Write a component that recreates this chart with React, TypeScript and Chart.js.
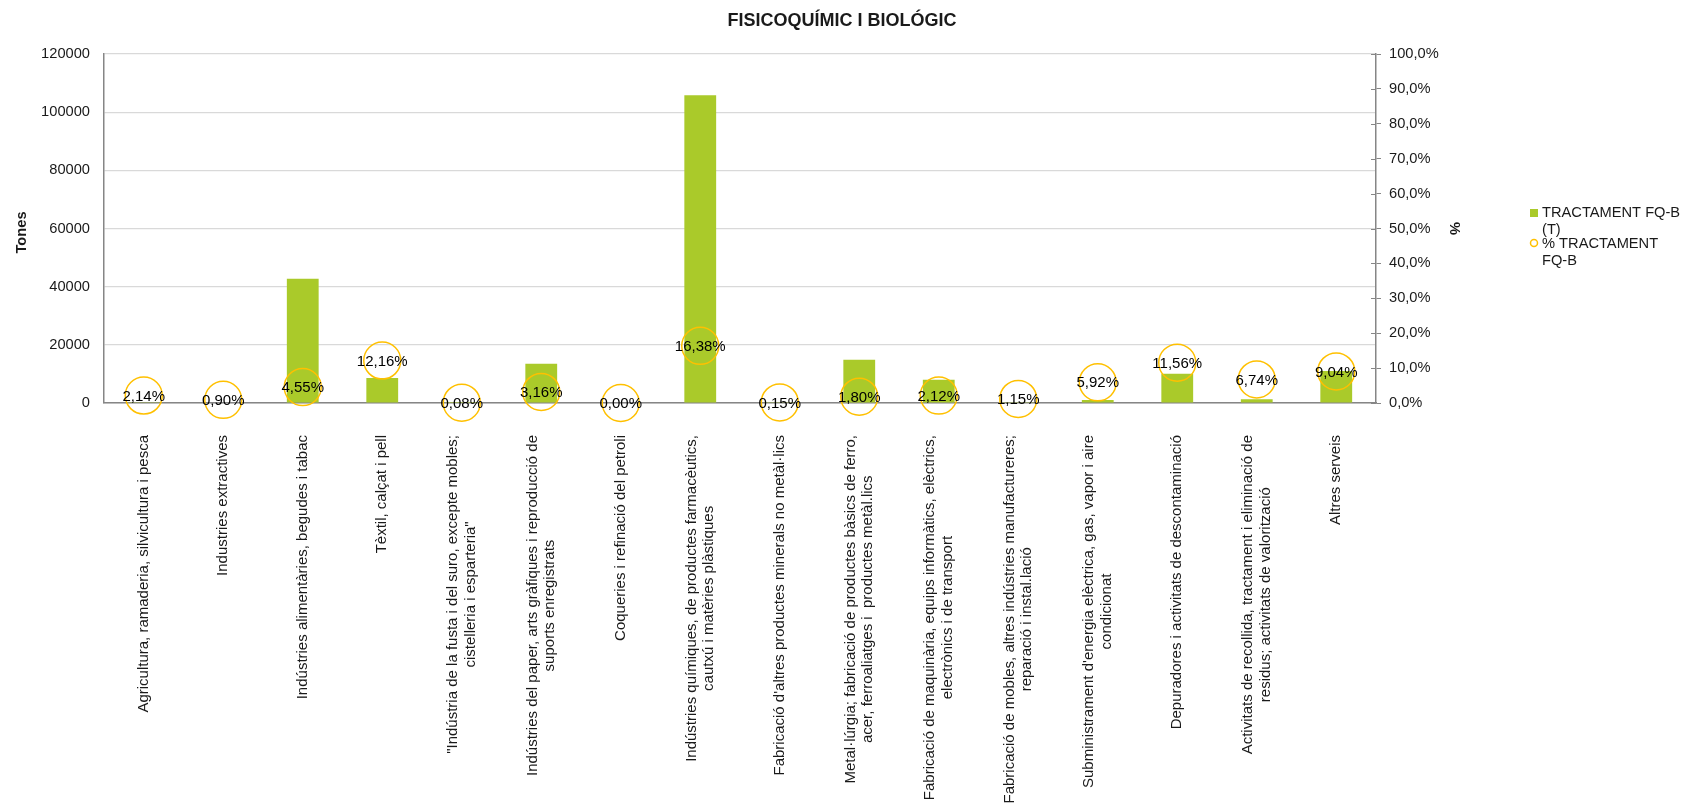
import React, { useEffect, useRef } from 'react';
import { Chart, registerables } from 'chart.js';

Chart.register(...registerables);

const TITLE = 'FISICOQUÍMIC I BIOLÓGIC';
const LEFT_TITLE = 'Tones';
const RIGHT_TITLE = '%';

const categories: string[][] = [
  ['Agricultura, ramaderia, silvicultura i pesca'],
  ['Industries extractives'],
  ['Indústries alimentàries, begudes i tabac'],
  ['Tèxtil, calçat i pell'],
  ['"Indústria de la fusta i del suro, excepte mobles;', 'cistelleria i esparteria"'],
  ['Indústries del paper, arts gràfiques i reproducció de', 'suports enregistrats'],
  ['Coqueries i refinació del petroli'],
  ['Indústries químiques, de productes farmacèutics,', 'cautxú i matèries plàstiques'],
  ["Fabricació d'altres productes minerals no metàl·lics"],
  ['Metal·lúrgia; fabricació de productes bàsics de ferro,', 'acer, ferroaliatges i  productes metàl.lics'],
  ['Fabricació de maquinària, equips informàtics, elèctrics,', 'electrònics i de transport'],
  ['Fabricació de mobles, altres indústries manufactureres;', 'reparació i instal.lació'],
  ["Subministrament d'energia elèctrica, gas, vapor i aire", 'condicionat'],
  ['Depuradores i activitats de descontaminació'],
  ['Activitats de recollida, tractament i eliminació de', 'residus; activitats de valorització'],
  ['Altres serveis'],
];

const tones = [300, 150, 42700, 8600, 20, 13500, 0, 105800, 100, 14900, 8000, 250, 1000, 10100, 1300, 11000];
const percents = [2.14, 0.9, 4.55, 12.16, 0.08, 3.16, 0.0, 16.38, 0.15, 1.8, 2.12, 1.15, 5.92, 11.56, 6.74, 9.04];

const barLegend = ['TRACTAMENT FQ-B', '(T)'];
const pointLegend = ['% TRACTAMENT', 'FQ-B'];

const FONT = '"Liberation Sans", Arial, sans-serif';
const BAR_COLOR = '#AACA2A';
const POINT_COLOR = '#FFC000';
const AXIS_COLOR = '#868686';
const TEXT_COLOR = '#1a1a1a';

const fmtPct = (v: number, d: number) => v.toFixed(d).replace('.', ',') + '%';

const customDraw = {
  id: 'customDraw',
  afterDraw(chart: any) {
    const ctx = chart.ctx as CanvasRenderingContext2D;
    const area = chart.chartArea;
    const xs = chart.scales.x;
    const y2 = chart.scales.y2;
    ctx.save();

    // Title
    ctx.fillStyle = TEXT_COLOR;
    ctx.font = `bold 18px ${FONT}`;
    ctx.textAlign = 'center';
    ctx.textBaseline = 'middle';
    ctx.fillText(TITLE, 842, 21);

    // Left axis title
    ctx.font = `bold 14.67px ${FONT}`;
    ctx.save();
    ctx.translate(22, (area.top + area.bottom) / 2 + 4);
    ctx.rotate(-Math.PI / 2);
    ctx.fillText(LEFT_TITLE, 0, 0);
    ctx.restore();

    // Right axis title
    ctx.save();
    ctx.translate(1454, (area.top + area.bottom) / 2);
    ctx.rotate(Math.PI / 2);
    ctx.fillText(RIGHT_TITLE, 0, 0);
    ctx.restore();

    // Inner tick marks on the right axis
    ctx.strokeStyle = AXIS_COLOR;
    ctx.lineWidth = 1;
    for (const t of y2.ticks) {
      const py = Math.round(y2.getPixelForValue(t.value)) + 0.5;
      ctx.beginPath();
      ctx.moveTo(area.right - 5, py);
      ctx.lineTo(area.right, py);
      ctx.stroke();
    }

    // Category labels (rotated, lines centered)
    ctx.font = `15px ${FONT}`;
    ctx.fillStyle = TEXT_COLOR;
    const lh = 17.5;
    const top = area.bottom + 32;
    categories.forEach((lines, i) => {
      const cx = xs.getPixelForValue(i);
      const maxW = Math.max(...lines.map((l) => ctx.measureText(l).width));
      lines.forEach((line, j) => {
        const lx = cx - ((lines.length - 1) * lh) / 2 + j * lh;
        ctx.save();
        ctx.translate(lx, top + maxW / 2);
        ctx.rotate(-Math.PI / 2);
        ctx.textAlign = 'center';
        ctx.textBaseline = 'middle';
        ctx.fillText(line, 0, 0);
        ctx.restore();
      });
    });

    // Percent labels on points
    const meta = chart.getDatasetMeta(1);
    ctx.font = `15px ${FONT}`;
    ctx.fillStyle = '#000';
    ctx.textAlign = 'center';
    ctx.textBaseline = 'middle';
    meta.data.forEach((pt: any, i: number) => {
      ctx.fillText(fmtPct(percents[i], 2), pt.x, pt.y + 1);
    });

    // Legend
    ctx.font = `14.67px ${FONT}`;
    ctx.textAlign = 'left';
    ctx.textBaseline = 'middle';
    ctx.fillStyle = BAR_COLOR;
    ctx.fillRect(1530, 209, 8, 8);
    ctx.fillStyle = TEXT_COLOR;
    ctx.fillText(barLegend[0], 1542, 213);
    ctx.fillText(barLegend[1], 1542, 230);
    ctx.beginPath();
    ctx.arc(1534, 243, 3.5, 0, Math.PI * 2);
    ctx.strokeStyle = POINT_COLOR;
    ctx.lineWidth = 1.5;
    ctx.stroke();
    ctx.fillText(pointLegend[0], 1542, 244);
    ctx.fillText(pointLegend[1], 1542, 261);

    ctx.restore();
  },
};

export default function App() {
  const ref = useRef<HTMLCanvasElement | null>(null);

  useEffect(() => {
    if (!ref.current) return;
    Chart.defaults.font.family = FONT;
    const chart = new Chart(ref.current, {
      type: 'bar',
      data: {
        labels: categories,
        datasets: [
          {
            type: 'bar',
            label: barLegend.join(' '),
            data: tones,
            backgroundColor: BAR_COLOR,
            borderWidth: 0,
            barPercentage: 0.4,
            categoryPercentage: 1.0,
            yAxisID: 'y',
            order: 2,
          },
          {
            type: 'line',
            label: pointLegend.join(' '),
            data: percents,
            showLine: false,
            pointRadius: 18.5,
            pointHoverRadius: 18.5,
            pointBorderColor: POINT_COLOR,
            pointBackgroundColor: 'rgba(0,0,0,0)',
            pointBorderWidth: 1.5,
            yAxisID: 'y2',
            order: 1,
            clip: false as any,
          } as any,
        ],
      },
      options: {
        animation: false,
        responsive: false,
        devicePixelRatio: 1,
        layout: { padding: { top: 54, left: 0, right: 0, bottom: 0 } },
        plugins: {
          legend: { display: false },
          title: { display: false },
          tooltip: { enabled: false },
        },
        scales: {
          x: {
            type: 'category',
            offset: true,
            grid: { display: false, drawTicks: false },
            border: { display: true, color: AXIS_COLOR, width: 1.5 },
            ticks: { display: false },
            afterFit: (s: any) => {
              s.height = 400;
            },
          },
          y: {
            position: 'left',
            min: 0,
            max: 120000,
            ticks: {
              stepSize: 20000,
              padding: 14,
              color: TEXT_COLOR,
              font: { size: 14.67, family: FONT },
              callback: (v: any) => String(v),
            },
            grid: { color: '#D9D9D9', drawTicks: false, lineWidth: 1.2 },
            border: { color: AXIS_COLOR, width: 1.5 },
            afterFit: (s: any) => {
              s.width = 104;
            },
          },
          y2: {
            position: 'right',
            min: 0,
            max: 100,
            ticks: {
              stepSize: 10,
              padding: 8,
              color: TEXT_COLOR,
              font: { size: 14.67, family: FONT },
              callback: (v: any) => fmtPct(Number(v), 1),
            },
            grid: { drawOnChartArea: false, color: AXIS_COLOR, tickLength: 5 },
            border: { color: AXIS_COLOR, width: 1.5 },
            afterFit: (s: any) => {
              s.width = 310;
            },
          },
        },
      } as any,
      plugins: [customDraw],
    });
    return () => chart.destroy();
  }, []);

  return (
    <div style={{ position: 'absolute', left: 0, top: 0, width: 1686, height: 803, background: '#fff' }}>
      <canvas ref={ref} width={1686} height={803} style={{ display: 'block', width: 1686, height: 803 }} />
    </div>
  );
}
